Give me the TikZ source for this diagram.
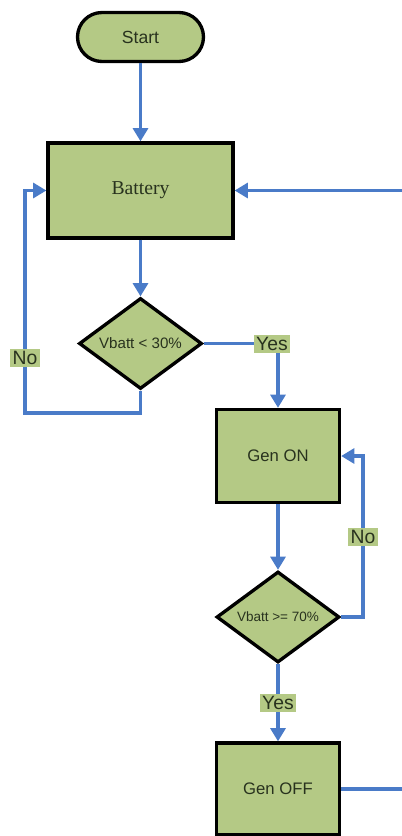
\documentclass[tikz,border=0pt]{standalone}
\usepackage{fontspec}
\setmainfont{Liberation Sans}
\newfontfamily\battfont{Liberation Serif}
\usetikzlibrary{shapes.geometric,arrows.meta}
\definecolor{boxg}{HTML}{B4C985}
\definecolor{flowb}{HTML}{4A7BC8}
\definecolor{txtd}{HTML}{28321E}

\begin{document}
\begin{tikzpicture}[x=0.02cm,y=-0.02cm,
    blk/.style={draw=black,line width=1.9pt,fill=boxg,text=txtd,inner sep=0pt},
    proc/.style={blk,rectangle,minimum width=2.46cm,minimum height=1.86cm,font=\fontsize{9.5}{11}\selectfont},
    test/.style={blk,diamond,aspect=1.35,minimum width=2.46cm,minimum height=1.82cm},
    lbl/.style={fill=boxg,text=txtd,inner sep=1.5pt,font=\fontsize{11}{13}\selectfont},
    flow/.style={draw=flowb,line width=1.8pt,-{Triangle[length=7.5pt,width=8.5pt]}},
    wire/.style={draw=flowb,line width=1.8pt}
]
    \useasboundingbox (0,0) rectangle (402,836);
    \node[blk,rounded corners=0.49cm,minimum width=2.52cm,minimum height=0.98cm,font=\fontsize{10}{12}\selectfont] (start) at (140.5,37) {Start};
    \node[proc,minimum width=3.7cm,minimum height=1.9cm,font=\battfont\fontsize{11.2}{13}\selectfont] (batt) at (140.5,190.5) {Battery};
    \node[test,font=\fontsize{8.6}{10}\selectfont] (low) at (140.5,343.5) {Vbatt < 30\%};
    \node[proc] (genon) at (278,456) {Gen ON};
    \node[test,font=\fontsize{7.7}{9}\selectfont] (high) at (278,617) {Vbatt >= 70\%};
    \node[proc,minimum height=1.84cm] (genoff) at (278,789) {Gen OFF};
    \coordinate (inR) at (402,190.5);
    \coordinate (outR) at (402,789);
    \coordinate (loopL) at (25,413);
    \coordinate (loopR) at (363,617);

    \draw[flow] (start) -- (batt);
    \draw[flow] (batt) -- (low);
    \draw[flow] (low.east) -| (genon.north);
    \draw[flow] (low.south) |- (loopL) |- (batt.west);
    \draw[flow] (genon) -- (high);
    \draw[flow] (high.east) -- (loopR) |- (genon.east);
    \draw[flow] (high) -- (genoff);
    \draw[wire] (genoff.east) -- (outR);
    \draw[flow] (inR) -- (batt.east);

    \node[lbl] (yes1) at (272,344) {Yes};
    \node[lbl] (no1) at (25,358) {No};
    \node[lbl] (no2) at (363,537) {No};
    \node[lbl] (yes2) at (278,703) {Yes};
\end{tikzpicture}
\end{document}
